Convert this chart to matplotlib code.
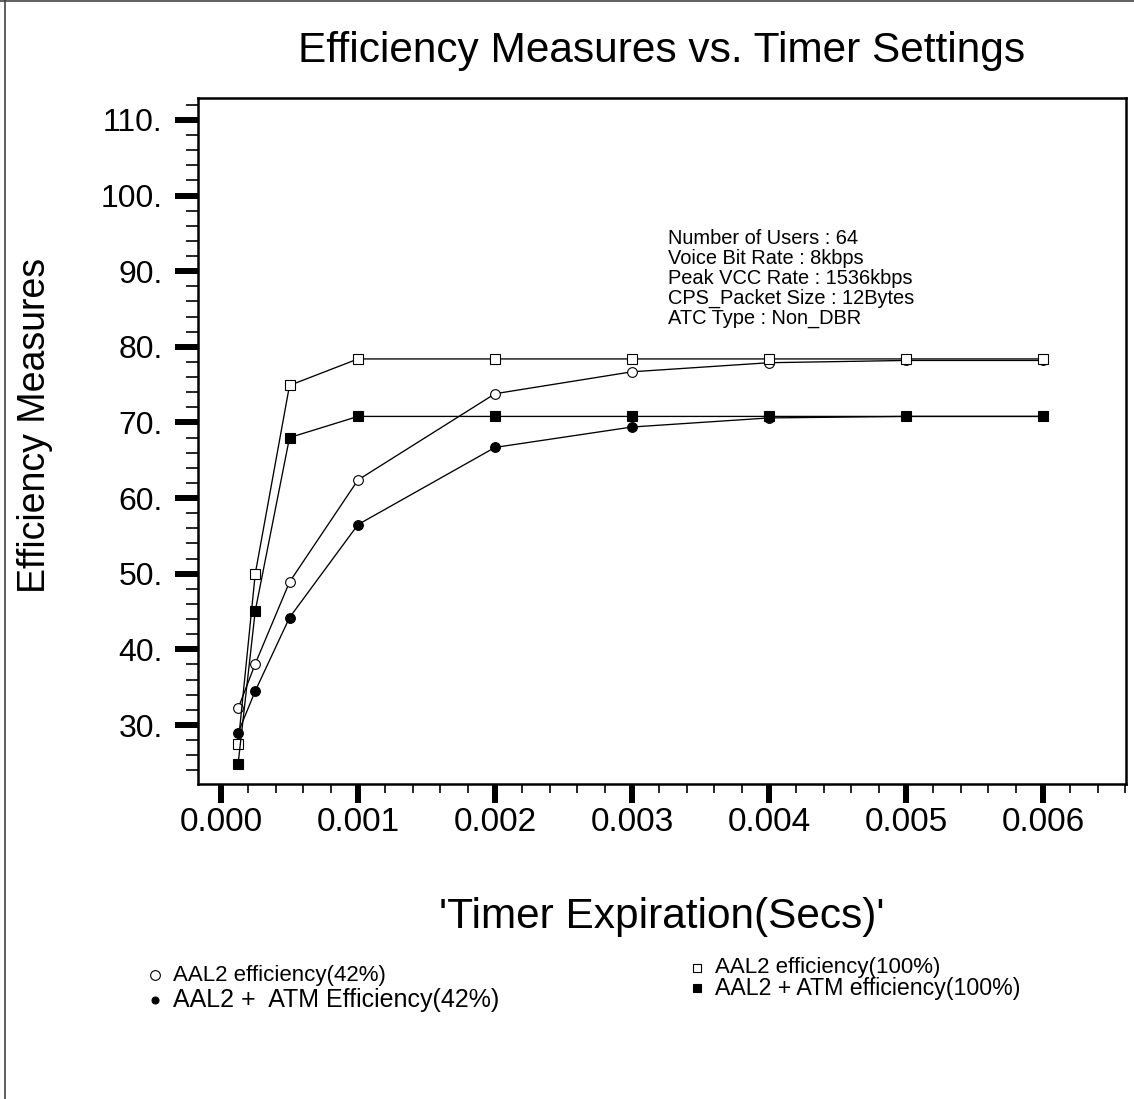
import numpy as np
import matplotlib
matplotlib.use('Agg')
import matplotlib.pyplot as plt
from matplotlib.lines import Line2D
from matplotlib.ticker import FixedLocator, MultipleLocator, FuncFormatter

plt.rcParams['font.family'] = ['Liberation Sans', 'DejaVu Sans']

# timer expiration values (secs)
timer = [0.000125, 0.00025, 0.0005, 0.001, 0.002, 0.003, 0.004, 0.005, 0.006]

# efficiency measures
aal2_42 = [32.2, 38.1, 48.9, 62.4, 73.8, 76.7, 77.9, 78.2, 78.2]
aal2_atm_42 = [29.0, 34.5, 44.2, 56.5, 66.7, 69.4, 70.6, 70.8, 70.8]
aal2_100 = [27.5, 50.0, 74.9, 78.4, 78.4, 78.4, 78.4, 78.4, 78.4]
aal2_atm_100 = [24.9, 45.1, 68.0, 70.8, 70.8, 70.8, 70.8, 70.8, 70.8]

labels = ['AAL2 efficiency(42%)', 'AAL2 +  ATM Efficiency(42%)',
          'AAL2 efficiency(100%)', 'AAL2 + ATM efficiency(100%)']

info = ['Number of Users : 64', 'Voice Bit Rate : 8kbps', 'Peak VCC Rate : 1536kbps',
        'CPS_Packet Size : 12Bytes', 'ATC Type : Non_DBR']

x_ticks = [0.000, 0.001, 0.002, 0.003, 0.004, 0.005, 0.006]
y_ticks = [30, 40, 50, 60, 70, 80, 90, 100, 110]

W, H = 1134, 1099
fig = plt.figure(figsize=(W / 100, H / 100), dpi=100)
ax = fig.add_axes([198 / W, 1 - 784 / H, (1126 - 198) / W, (784 - 98) / H])

# series styles: marker, face colour
styles = [('o', 'white'), ('o', 'black'), ('s', 'white'), ('s', 'black')]
series = [aal2_42, aal2_atm_42, aal2_100, aal2_atm_100]
for vals, (m, fc) in zip(series, styles):
    ax.plot(timer, vals, color='black', lw=0.95, marker=m, markersize=7,
            markerfacecolor=fc, markeredgecolor='black', markeredgewidth=0.8)

ax.set_xlim(-0.000168, 0.006606)
ax.set_ylim(22.2, 112.9)

ax.xaxis.set_major_locator(FixedLocator(x_ticks))
ax.xaxis.set_minor_locator(MultipleLocator(0.0002))
ax.xaxis.set_major_formatter(FuncFormatter(lambda v, p: f'{v:.3f}'))
ax.yaxis.set_major_locator(FixedLocator(y_ticks))
ax.yaxis.set_minor_locator(MultipleLocator(2))
ax.yaxis.set_major_formatter(FuncFormatter(lambda v, p: f'{v:.0f}.'))

ax.tick_params(axis='y', which='major', direction='out', length=16.5, width=4.3,
               pad=9, labelsize=23)
ax.tick_params(axis='y', which='minor', direction='out', length=8.6, width=1.2)
ax.tick_params(axis='x', which='major', direction='out', length=13.7, width=4.3,
               pad=3, labelsize=24)
ax.tick_params(axis='x', which='minor', direction='out', length=6.5, width=1.2)
for s in ax.spines.values():
    s.set_linewidth(1.8)

# titles and axis labels
fig.text(662 / W, 1 - 62 / H, 'Efficiency Measures vs. Timer Settings',
         ha='center', va='baseline', fontsize=30.5)
fig.text(662 / W, 1 - 917 / H, "'Timer Expiration(Secs)'",
         ha='center', va='center', fontsize=30.5)
fig.text(35 / W, 1 - 425 / H, 'Efficiency Measures', rotation=90,
         ha='center', va='center', fontsize=27)

# parameter block
for i, line in enumerate(info):
    fig.text(668 / W, 1 - (238 + 20 * i) / H, line, ha='left', va='center',
             fontsize=14.4)

# legend drawn below the plot
leg_pos = [(155, 975), (155, 1000), (697, 968), (697, 988)]
leg_marks = [('o', 'white', 7), ('o', 'black', 5), ('s', 'white', 6), ('s', 'black', 6)]
leg_size = [16, 18, 16, 16.7]
for lab, (px, py), (m, fc, ms), fs in zip(labels, leg_pos, leg_marks, leg_size):
    fig.add_artist(Line2D([px / W], [1 - py / H], marker=m, markersize=ms,
                          markerfacecolor=fc, markeredgecolor='black',
                          markeredgewidth=0.8, linestyle='none'))
    fig.text((px + 18) / W, 1 - py / H, lab, ha='left', va='center', fontsize=fs)

# outer frame lines
fig.add_artist(Line2D([4.5 / W, 4.5 / W], [0, 1], color='#444444', lw=1.2))
fig.add_artist(Line2D([0, 1], [1 - 1 / H, 1 - 1 / H], color='#444444', lw=1.2))

fig.savefig('out.png', dpi=100)
